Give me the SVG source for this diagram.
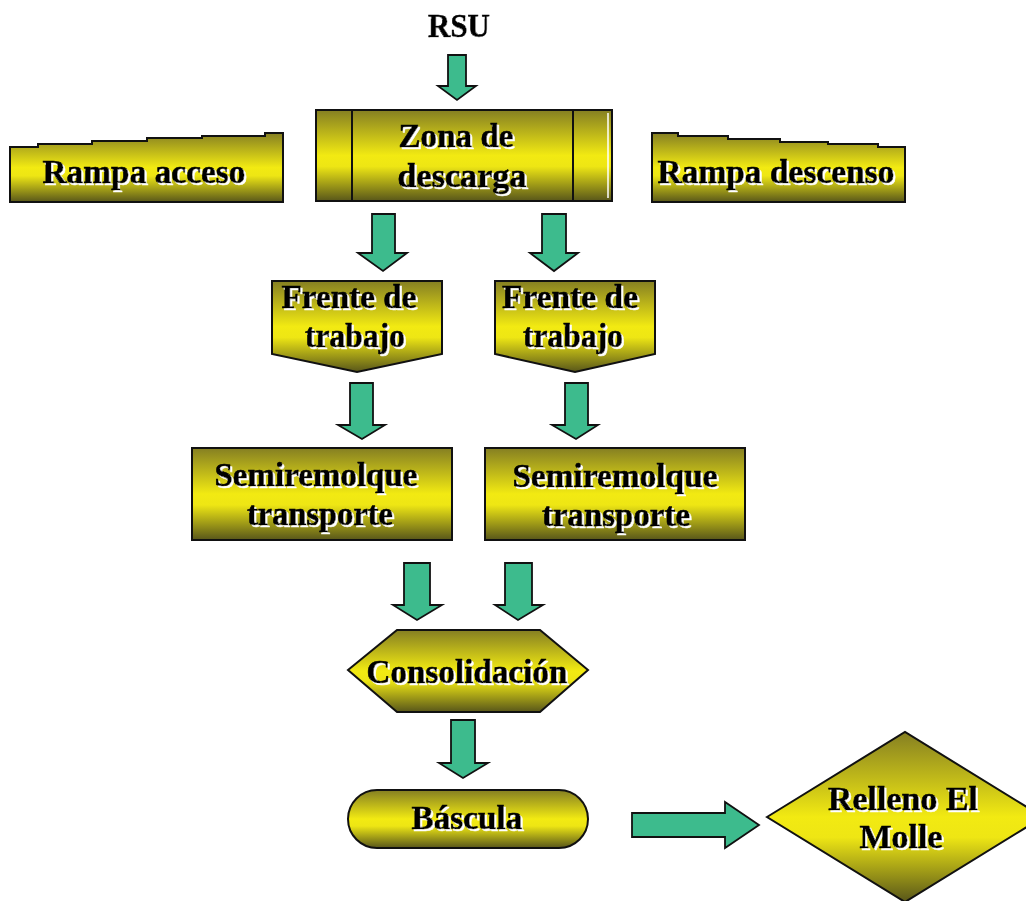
<svg xmlns="http://www.w3.org/2000/svg" width="1026" height="901" viewBox="0 0 1026 901">
<style>
.shape{fill:url(#yg);stroke:#111;stroke-width:2}
.arrow{fill:#3dbb8d;stroke:#111;stroke-width:1.8;stroke-linejoin:miter}
.t{font-family:"Liberation Serif","Times New Roman",serif;font-weight:bold;font-size:34px;fill:#000;stroke:#000;stroke-width:0.6;text-anchor:middle;filter:url(#ws)}
.sep{stroke:#111;stroke-width:2}
</style>
<defs>
<linearGradient id="yg" x1="0" y1="0" x2="0" y2="1">
<stop offset="0" stop-color="#857f22"/>
<stop offset="0.5" stop-color="#f2ea12"/>
<stop offset="0.62" stop-color="#eee614"/>
<stop offset="1" stop-color="#58561a"/>
</linearGradient>
<filter id="ws" x="-10%" y="-20%" width="130%" height="150%">
<feDropShadow dx="2" dy="2" stdDeviation="0" flood-color="#ffffff" flood-opacity="1"/>
</filter>
</defs>
<rect width="1026" height="901" fill="#ffffff"/>

<g id="rsu">
<text class="t" x="459" y="37" font-size="34" textLength="62" lengthAdjust="spacingAndGlyphs">RSU</text>
</g>

<g id="rampa-acceso">
<polygon class="shape" points="10,202 10,147 38,147 38,144 92,144 92,141 147,141 147,138 202,138 202,136 265,136 265,133 283,133 283,202"/>
<text class="t" x="144" y="183" textLength="203" lengthAdjust="spacingAndGlyphs">Rampa acceso</text>
</g>

<g id="zona-descarga">
<rect class="shape" x="316" y="110" width="296" height="91"/>
<line class="sep" x1="352" y1="110" x2="352" y2="201"/>
<line class="sep" x1="573" y1="110" x2="573" y2="201"/>
<line x1="608" y1="113" x2="608" y2="198" stroke="#ffffff" stroke-width="1.5"/>
<text class="t" x="456" y="147" textLength="115" lengthAdjust="spacingAndGlyphs">Zona de</text>
<text class="t" x="462" y="187" textLength="129" lengthAdjust="spacingAndGlyphs">descarga</text>
</g>

<g id="rampa-descenso">
<polygon class="shape" points="652,202 652,133 678,133 678,136 728,136 728,139 780,139 780,142 828,142 828,144 878,144 878,147 905,147 905,202"/>
<text class="t" x="776" y="183" textLength="237" lengthAdjust="spacingAndGlyphs">Rampa descenso</text>
</g>

<g id="frente-1">
<polygon class="shape" points="272,281 442,281 442,354 357,372 272,354"/>
<text class="t" x="349" y="308" textLength="135" lengthAdjust="spacingAndGlyphs">Frente de</text>
<text class="t" x="355" y="347" textLength="100" lengthAdjust="spacingAndGlyphs">trabajo</text>
</g>

<g id="frente-2">
<polygon class="shape" points="495,281 655,281 655,354 575,372 495,354"/>
<text class="t" x="570" y="308" textLength="136" lengthAdjust="spacingAndGlyphs">Frente de</text>
<text class="t" x="573" y="347" textLength="100" lengthAdjust="spacingAndGlyphs">trabajo</text>
</g>

<g id="semiremolque-1">
<rect class="shape" x="192" y="448" width="260" height="92"/>
<text class="t" x="316" y="486" textLength="203" lengthAdjust="spacingAndGlyphs">Semiremolque</text>
<text class="t" x="320" y="525" textLength="146" lengthAdjust="spacingAndGlyphs">transporte</text>
</g>

<g id="semiremolque-2">
<rect class="shape" x="485" y="448" width="260" height="92"/>
<text class="t" x="615" y="487" textLength="205" lengthAdjust="spacingAndGlyphs">Semiremolque</text>
<text class="t" x="616" y="526" textLength="148" lengthAdjust="spacingAndGlyphs">transporte</text>
</g>

<g id="consolidacion">
<polygon class="shape" points="348,670 397,630 540,630 588,670 540,712 397,712"/>
<text class="t" x="467" y="683" textLength="201" lengthAdjust="spacingAndGlyphs">Consolidación</text>
</g>

<g id="bascula">
<rect class="shape" x="348" y="790" width="240" height="58" rx="29" ry="29"/>
<text class="t" x="467" y="829" textLength="111" lengthAdjust="spacingAndGlyphs">Báscula</text>
</g>

<g id="relleno">
<polygon class="shape" points="767,817 905,732 1043,817 905,902"/>
<text class="t" x="903" y="810" textLength="150" lengthAdjust="spacingAndGlyphs">Relleno El</text>
<text class="t" x="901" y="848" textLength="83" lengthAdjust="spacingAndGlyphs">Molle</text>
</g>

<g id="connectors">
<polygon class="arrow" points="448,55 466,55 466,86 476,86 457,100 438,86 448,86"/>
<polygon class="arrow" points="372,214 395,214 395,253 407,253 383,271 358,253 372,253"/>
<polygon class="arrow" points="542,214 566,214 566,253 578,253 554,271 530,253 542,253"/>
<polygon class="arrow" points="350,383 373,383 373,425 385,425 362,439 338,425 350,425"/>
<polygon class="arrow" points="565,383 588,383 588,425 598,425 576,439 552,425 565,425"/>
<polygon class="arrow" points="404,563 430,563 430,605 442,605 417,620 393,605 404,605"/>
<polygon class="arrow" points="505,563 532,563 532,605 543,605 518,620 495,605 505,605"/>
<polygon class="arrow" points="451,720 475,720 475,763 488,763 463,778 439,763 451,763"/>
<polygon class="arrow" points="632,813 725,813 725,802 759,825 725,848 725,837 632,837"/>
</g>
</svg>
